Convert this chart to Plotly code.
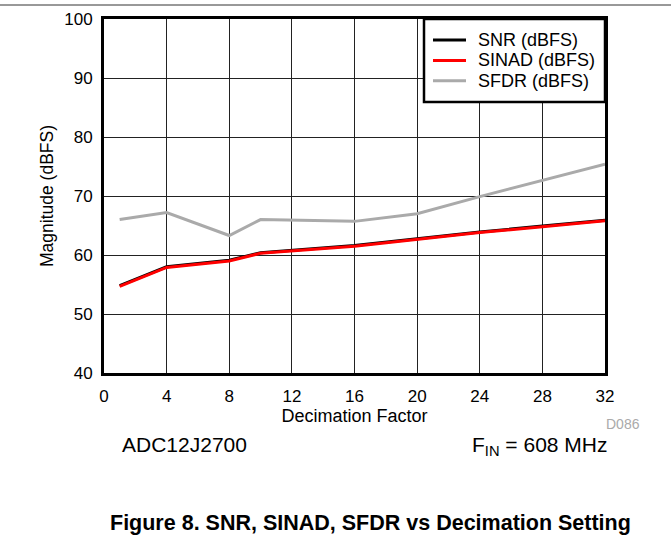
import plotly.graph_objects as go

x_vals = [1, 4, 8, 10, 16, 20, 24, 28, 32]
snr = [54.8, 58.0, 59.1, 60.4, 61.6, 62.8, 63.9, 64.9, 65.9]
sinad = [54.7, 57.9, 59.0, 60.3, 61.5, 62.7, 63.8, 64.8, 65.8]
sfdr = [66.0, 67.2, 63.3, 66.0, 65.7, 67.0, 69.9, 72.7, 75.4]
x_ticks = [0, 4, 8, 12, 16, 20, 24, 28, 32]
y_ticks = [40, 50, 60, 70, 80, 90, 100]
series_names = ["SNR (dBFS)", "SINAD (dBFS)", "SFDR (dBFS)"]
series_colors = ["black", "#ff0000", "#aaaaaa"]

W, H = 671, 542
# plot area in page pixels
PL, PR, PT, PB = 104, 605, 19, 373
ML = PL
MT = PT
MR = W - PR
MB = H - PB
PW, PH = PR - PL, PB - PT

def px(x):
    return (x - PL) / PW

def py(y):
    return (PB - y) / PH

FONT = "Liberation Sans, Arial, sans-serif"

fig = go.Figure()
for name, ys, col in zip(series_names, [snr, sinad, sfdr], series_colors):
    fig.add_trace(go.Scatter(x=x_vals, y=ys, mode="lines", name=name,
                             line=dict(color=col, width=3)))

fig.update_layout(
    width=W, height=H,
    margin=dict(l=ML, r=MR, t=MT, b=MB, autoexpand=False),
    paper_bgcolor="white", plot_bgcolor="white",
    font=dict(family=FONT, size=17, color="black"),
    showlegend=False,
    hovermode=False,
    xaxis=dict(range=[0, 32], tickmode="array", tickvals=x_ticks,
               showgrid=True, gridcolor="#222222", gridwidth=1, zeroline=False,
               showline=True, linecolor="black", linewidth=3, mirror=True,
               ticks="", tickfont=dict(size=17), automargin=False,
               ticklabelstandoff=6,
               title=dict(text="Decimation Factor", standoff=0,
                          font=dict(size=18))),
    yaxis=dict(range=[40, 100], tickmode="array", tickvals=y_ticks,
               showgrid=True, gridcolor="#222222", gridwidth=1, zeroline=False,
               showline=True, linecolor="black", linewidth=3, mirror=True,
               ticks="", ticklabelstandoff=5, tickfont=dict(size=17),
               automargin=False,
               title=dict(text="Magnitude (dBFS)", standoff=7,
                          font=dict(size=17.5))),
)

# top rule of the page
fig.add_shape(type="line", xref="paper", yref="paper",
              x0=px(-20), x1=px(W + 20), y0=py(5), y1=py(5),
              line=dict(color="#333333", width=1))

# legend box
fig.add_shape(type="rect", xref="paper", yref="paper", layer="above",
              x0=px(424), x1=px(605), y0=py(102), y1=py(19),
              fillcolor="white", line=dict(color="black", width=2.5))
for i, (name, col) in enumerate(zip(series_names, series_colors)):
    yy = 40 + i * 20.4
    fig.add_shape(type="line", xref="paper", yref="paper", layer="above",
                  x0=px(433), x1=px(466), y0=py(yy), y1=py(yy),
                  line=dict(color=col, width=3))
    fig.add_annotation(text=name, xref="paper", yref="paper",
                       x=px(476), y=py(yy), xanchor="left", yanchor="middle",
                       showarrow=False, font=dict(size=18))

fig.add_annotation(text="D086", xref="paper", yref="paper",
                   x=px(642), y=py(424), xanchor="right", yanchor="middle",
                   showarrow=False, font=dict(size=14, color="#aaaaaa"))
fig.add_annotation(text="ADC12J2700", xref="paper", yref="paper",
                   x=px(120), y=py(444), xanchor="left", yanchor="middle",
                   showarrow=False, font=dict(size=21))
fig.add_annotation(text="F<sub>IN</sub> = 608 MHz", xref="paper", yref="paper",
                   x=px(609), y=py(446), xanchor="right", yanchor="middle",
                   showarrow=False, font=dict(size=21))
fig.add_annotation(text="<b>Figure 8. SNR, SINAD, SFDR vs Decimation Setting</b>",
                   xref="paper", yref="paper",
                   x=px(370), y=py(523), xanchor="center", yanchor="middle",
                   showarrow=False, font=dict(size=21.5))

fig.write_html("out.html",
               config={"displayModeBar": False, "staticPlot": True},
               post_script="document.body.style.margin='0';")
